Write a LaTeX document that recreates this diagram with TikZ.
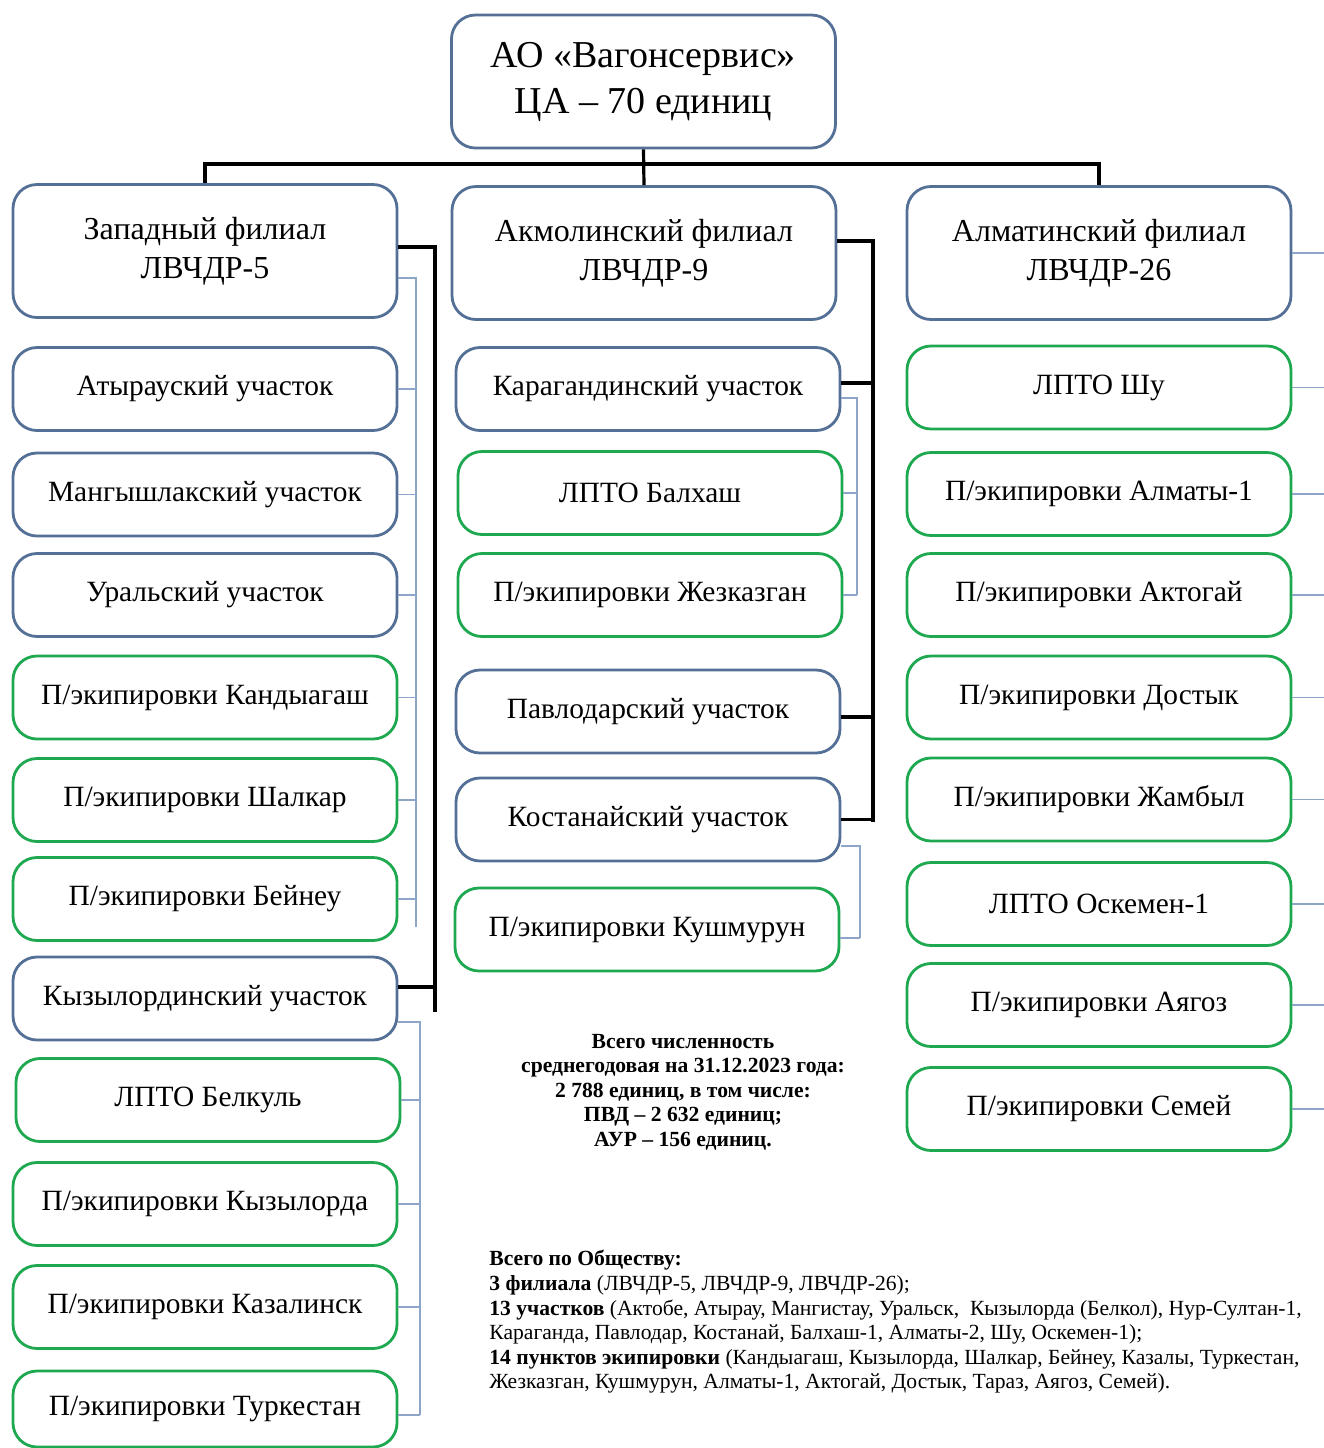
\documentclass[tikz,border=0pt]{standalone}
\usepackage{fontspec}
\setmainfont{Liberation Serif}
\usetikzlibrary{positioning,calc}
\definecolor{boxblue}{RGB}{84,112,150}
\definecolor{boxgreen}{RGB}{30,168,80}
\definecolor{twigblue}{RGB}{140,165,200}
\tikzset{
    %Define style for boxes
    box/.style={
           rectangle,
           rounded corners=12pt,
           draw=boxblue, line width=1.4pt,
           fill=white,
           minimum width=192pt,
           minimum height=41.5pt,
           inner sep=0pt,
           font=\fontsize{14.7}{19.5}\selectfont,
           align=center},
    gbox/.style={box, draw=boxgreen},
    bigbox/.style={box, minimum height=66.5pt, font=\fontsize{16}{19.5}\selectfont},
    % Define line styles
    trunk/.style={line width=1.6pt, black},
    twig/.style={line width=0.9pt, twigblue}
}

\begin{document}
\begin{tikzpicture}[x=0.5pt, y=-0.5pt]
  \useasboundingbox (0,0) rectangle (1324,1448);
  % head and branches
  \node[bigbox, font=\fontsize{19}{23}\selectfont] (ao) at (643.5,81.5) {АО «Вагонсервис»\\ЦА – 70 единиц};
  \node[bigbox] (zap) at (205,251) {Западный филиал\\ЛВЧДР-5};
  \node[bigbox] (akm) at (644,253) {Акмолинский филиал\\ЛВЧДР-9};
  \node[bigbox] (alm) at (1099,253) {Алматинский филиал\\ЛВЧДР-26};
  \coordinate (bus) at (639,164);
  \draw[trunk] (zap.north) |- (bus) -| (alm.north);
  \draw[trunk] (ao.south) -- (akm.north);

  % western branch
  \node[box] (atr) at (205,389) {Атырауский участок};
  \node[box] (mng) at (205,494.5) {Мангышлакский участок};
  \node[box] (url) at (205,595) {Уральский участок};
  \node[gbox] (knd) at (205,697.5) {П/экипировки Кандыагаш};
  \node[gbox] (shl) at (205,800) {П/экипировки Шалкар};
  \node[gbox] (bey) at (205,899) {П/экипировки Бейнеу};
  \node[box] (kzl) at (205,998.5) {Кызылординский участок};
  \node[gbox] (blk) at (208,1100) {ЛПТО Белкуль};
  \node[gbox] (kzp) at (205,1204) {П/экипировки Кызылорда};
  \node[gbox] (kzn) at (205,1307) {П/экипировки Казалинск};
  \node[gbox, minimum height=38pt] (trk) at (205,1409) {П/экипировки Туркестан};
  \coordinate (zapend) at (435,1012);
  \coordinate (zapt) at (416,927);
  \coordinate (kzlt) at (420,1415);
  \draw[trunk] ([yshift=2pt]zap.east) -| (zapend);
  \draw[trunk] ([yshift=5.75pt]kzl.east) -- ([yshift=5.75pt]kzl.east -| zapend);
  \draw[twig] ([yshift=-13.5pt]zap.east) -| (zapt);
  \foreach \n in {atr,mng,url,knd,shl,bey}
    \draw[twig] (\n.east) -- (\n.east -| zapt);
  \draw[twig] ([yshift=-11.75pt]kzl.east) -| (kzlt);
  \foreach \n in {blk,kzp,kzn}
    \draw[twig] (\n.east) -- (\n.east -| kzlt);
  \draw[twig] (trk.east |- kzlt) -- (kzlt);

  % akmola branch
  \node[box] (kar) at (648,389) {Карагандинский участок};
  \node[gbox] (blh) at (650,493) {ЛПТО Балхаш};
  \node[gbox] (jez) at (650,595) {П/экипировки Жезказган};
  \node[box] (pvl) at (648,711.5) {Павлодарский участок};
  \node[box] (kst) at (648,819.5) {Костанайский участок};
  \node[gbox] (ksh) at (647,929.5) {П/экипировки Кушмурун};
  \coordinate (akmend) at (873,822);
  \coordinate (kart) at (857,595);
  \coordinate (kstt) at (860,938);
  \draw[trunk] ([yshift=6pt]akm.east) -| (akmend);
  \draw[trunk] ([yshift=3pt]kar.east) -- ([yshift=3pt]kar.east -| akmend);
  \draw[trunk] ([yshift=-2.75pt]pvl.east) -- ([yshift=-2.75pt]pvl.east -| akmend);
  \draw[trunk] (kst.east) -- (kst.east -| akmend);
  \draw[twig] ([yshift=-4.5pt]kar.east) -| (kart);
  \draw[twig] (blh.east) -- (blh.east -| kart);
  \draw[twig] (jez.east) -- (jez.east -| kart);
  \draw[twig] ([yshift=-13.25pt]kst.east) -| (kstt);
  \draw[twig] (ksh.east |- kstt) -- (kstt);

  % almaty branch
  \node[gbox] (shu) at (1099,387.5) {ЛПТО Шу};
  \node[gbox] (al1) at (1099,494) {П/экипировки Алматы-1};
  \node[gbox] (akt) at (1099,595) {П/экипировки Актогай};
  \node[gbox] (dst) at (1099,697.5) {П/экипировки Достык};
  \node[gbox] (jmb) at (1099,799.5) {П/экипировки Жамбыл};
  \node[gbox] (osk) at (1099,904) {ЛПТО Оскемен-1};
  \node[gbox] (ayg) at (1099,1005) {П/экипировки Аягоз};
  \node[gbox] (sem) at (1099,1109) {П/экипировки Семей};
  \coordinate (edge) at (1324,0);
  \foreach \n in {alm,shu,al1,akt,dst,jmb,osk,ayg,sem}
    \draw[twig] (\n.east) -- (\n.east -| edge);

  % totals
  \node[font=\bfseries\fontsize{10.8}{12.3}\selectfont, align=center] (tot) at (683,1092)
    {Всего численность\\среднегодовая на 31.12.2023 года:\\2 788 единиц, в том числе:\\ПВД – 2 632 единиц;\\АУР – 156 единиц.};
  \node[font=\fontsize{10.8}{12.3}\selectfont, align=left, anchor=north west, inner sep=0pt] (note) at (489,1250)
    {\textbf{Всего по Обществу:}\\
     \textbf{3 филиала} (ЛВЧДР-5, ЛВЧДР-9, ЛВЧДР-26);\\
     \textbf{13 участков} (Актобе, Атырау, Мангистау, Уральск,\ \ Кызылорда (Белкол), Нур-Султан-1,\\
     Караганда, Павлодар, Костанай, Балхаш-1, Алматы-2, Шу, Оскемен-1);\\
     \textbf{14 пунктов экипировки} (Кандыагаш, Кызылорда, Шалкар, Бейнеу, Казалы, Туркестан,\\
     Жезказган, Кушмурун, Алматы-1, Актогай, Достык, Тараз, Аягоз, Семей).};
\end{tikzpicture}
\end{document}
